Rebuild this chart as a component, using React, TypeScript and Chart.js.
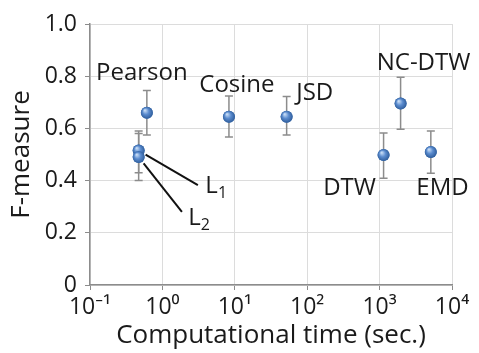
import React, { useEffect, useRef } from "react";
import { Chart, registerables } from "chart.js";

Chart.register(...registerables);

// ---- data ----
const methodNames = ["L1", "L2", "Pearson", "Cosine", "JSD", "NC-DTW", "DTW", "EMD"];
const timeSec = [0.47, 0.47, 0.61, 8.3, 52, 1950, 1135, 5100];
const fMeasure = [0.515, 0.49, 0.66, 0.645, 0.645, 0.695, 0.498, 0.51];
const errLow = [0.43, 0.4, 0.575, 0.567, 0.575, 0.597, 0.409, 0.428];
const errHigh = [0.59, 0.58, 0.745, 0.724, 0.722, 0.796, 0.582, 0.59];

const xTickValues = [0.1, 1, 10, 100, 1000, 10000];
const xTickLabels = ["10⁻¹", "10⁰", "10¹", "10²", "10³", "10⁴"];
const yTickValues = [0, 0.2, 0.4, 0.6, 0.8, 1.0];
const yTickLabels = ["0", "0.2", "0.4", "0.6", "0.8", "1.0"];

// text annotations (in data coordinates)
const labelTexts = ["Pearson", "Cosine", "JSD", "NC-DTW", "DTW", "EMD"];
const labelX = [0.52, 10.7, 127, 4045, 385, 7400];
const labelY = [0.812, 0.766, 0.736, 0.851, 0.372, 0.372];

// leader-line labels L1, L2
const leaderIndex = [0, 1];
const leaderMain = ["L", "L"];
const leaderSub = ["1", "2"];
const leaderEndX = [3.09, 1.86];
const leaderEndY = [0.383, 0.28];
const leaderLabelX = [4.9, 2.85];
const leaderLabelY = [0.38, 0.257];

const FONT = "'Open Sans', 'Noto Sans', sans-serif";

const overlayPlugin = {
  id: "overlay",
  beforeDatasetsDraw(chart: any) {
    const { ctx, scales } = chart;
    const xs = scales.x, ys = scales.y;
    ctx.save();
    ctx.strokeStyle = "#8c8c8c";
    ctx.lineWidth = 1.5;
    for (let i = 0; i < timeSec.length; i++) {
      const px = xs.getPixelForValue(timeSec[i]);
      const pl = ys.getPixelForValue(errLow[i]);
      const ph = ys.getPixelForValue(errHigh[i]);
      ctx.beginPath();
      ctx.moveTo(px, pl);
      ctx.lineTo(px, ph);
      ctx.moveTo(px - 4, pl);
      ctx.lineTo(px + 4, pl);
      ctx.moveTo(px - 4, ph);
      ctx.lineTo(px + 4, ph);
      ctx.stroke();
    }
    ctx.restore();
  },
  afterDatasetsDraw(chart: any) {
    const { ctx, scales } = chart;
    const xs = scales.x, ys = scales.y;
    ctx.save();
    // shade the library-placed points as spheres
    const meta = chart.getDatasetMeta(0);
    meta.data.forEach((el: any) => {
      const px = el.x, py = el.y;
      if (!isFinite(px) || !isFinite(py)) return;
      const g = ctx.createRadialGradient(px - 2, py - 2.5, 0.5, px, py, 6.5);
      g.addColorStop(0, "#c4daf4");
      g.addColorStop(0.45, "#5b8ccf");
      g.addColorStop(1, "#2a5896");
      ctx.beginPath();
      ctx.arc(px, py, 6, 0, Math.PI * 2);
      ctx.fillStyle = g;
      ctx.fill();
    });

    ctx.fillStyle = "#1a1a1a";
    ctx.textAlign = "center";
    ctx.textBaseline = "middle";
    ctx.font = `24px ${FONT}`;
    for (let i = 0; i < labelTexts.length; i++) {
      ctx.fillText(labelTexts[i], xs.getPixelForValue(labelX[i]), ys.getPixelForValue(labelY[i]));
    }
    // leader lines
    ctx.strokeStyle = "#111";
    ctx.lineWidth = 2;
    for (let k = 0; k < leaderIndex.length; k++) {
      const i = leaderIndex[k];
      const x0 = xs.getPixelForValue(timeSec[i]);
      const y0 = ys.getPixelForValue(fMeasure[i]);
      const x1 = xs.getPixelForValue(leaderEndX[k]);
      const y1 = ys.getPixelForValue(leaderEndY[k]);
      const dx = x1 - x0, dy = y1 - y0;
      const len = Math.hypot(dx, dy) || 1;
      const sx = x0 + (dx / len) * 8, sy = y0 + (dy / len) * 8;
      ctx.beginPath();
      ctx.moveTo(sx, sy);
      ctx.lineTo(x1, y1);
      ctx.stroke();
      const lx = xs.getPixelForValue(leaderLabelX[k]);
      const ly = ys.getPixelForValue(leaderLabelY[k]);
      ctx.textAlign = "left";
      ctx.font = `24px ${FONT}`;
      ctx.fillText(leaderMain[k], lx - 7, ly);
      const w = ctx.measureText(leaderMain[k]).width;
      ctx.font = `16px ${FONT}`;
      ctx.fillText(leaderSub[k], lx - 7 + w, ly + 8);
    }
    ctx.restore();
  },
};

export default function App() {
  const ref = useRef<HTMLCanvasElement>(null);
  useEffect(() => {
    if (!ref.current) return;
    const chart = new Chart(ref.current, {
      type: "scatter",
      data: {
        datasets: [
          {
            label: "methods",
            data: timeSec.map((t, i) => ({ x: t, y: fMeasure[i] })),
            pointRadius: 6,
            pointHoverRadius: 6,
            borderWidth: 0,
            borderColor: "#2f5f9e",
            backgroundColor: "#4a7ebb",
          },
        ],
      },
      options: {
        responsive: false,
        animation: false,
        layout: { padding: { left: 0, right: 27, top: 24, bottom: 0 } },
        plugins: { legend: { display: false }, tooltip: { enabled: false } },
        scales: {
          x: {
            type: "logarithmic",
            min: 0.1,
            max: 10000,
            afterBuildTicks: (s: any) => {
              s.ticks = xTickValues.map((v) => ({ value: v, major: true }));
            },
            afterFit: (s: any) => {
              s.height = 68;
            },
            ticks: {
              autoSkip: false,
              maxRotation: 0,
              padding: 4,
              color: "#1a1a1a",
              font: { family: FONT, size: 23 },
              callback: (_v: any, i: number) => xTickLabels[i],
            },
            grid: { color: "#dcdcdc", tickColor: "#8c8c8c", tickLength: 5, lineWidth: 1 },
            border: { color: "#8c8c8c", width: 1.5 },
            title: {
              display: true,
              text: "Computational time (sec.)",
              color: "#1a1a1a",
              font: { family: FONT, size: 26 },
              padding: { top: 0, bottom: 2 },
            },
          },
          y: {
            min: 0,
            max: 1,
            afterBuildTicks: (s: any) => {
              s.ticks = yTickValues.map((v) => ({ value: v }));
            },
            afterFit: (s: any) => {
              s.width = 90;
            },
            ticks: {
              padding: 8,
              color: "#1a1a1a",
              font: { family: FONT, size: 23 },
              callback: (_v: any, i: number) => yTickLabels[i],
            },
            grid: { color: "#dcdcdc", tickColor: "#8c8c8c", tickLength: 5, lineWidth: 1 },
            border: { color: "#8c8c8c", width: 1.5 },
            title: {
              display: true,
              text: "F-measure",
              color: "#1a1a1a",
              font: { family: FONT, size: 26 },
              padding: { top: 6, bottom: 0 },
            },
          },
        },
      },
      plugins: [overlayPlugin],
    });
    return () => chart.destroy();
  }, []);
  return (
    <div style={{ position: "absolute", left: 0, top: 0, width: 479, height: 353, background: "#fff" }}>
      <canvas ref={ref} width={479} height={353} style={{ width: 479, height: 353 }} />
    </div>
  );
}
